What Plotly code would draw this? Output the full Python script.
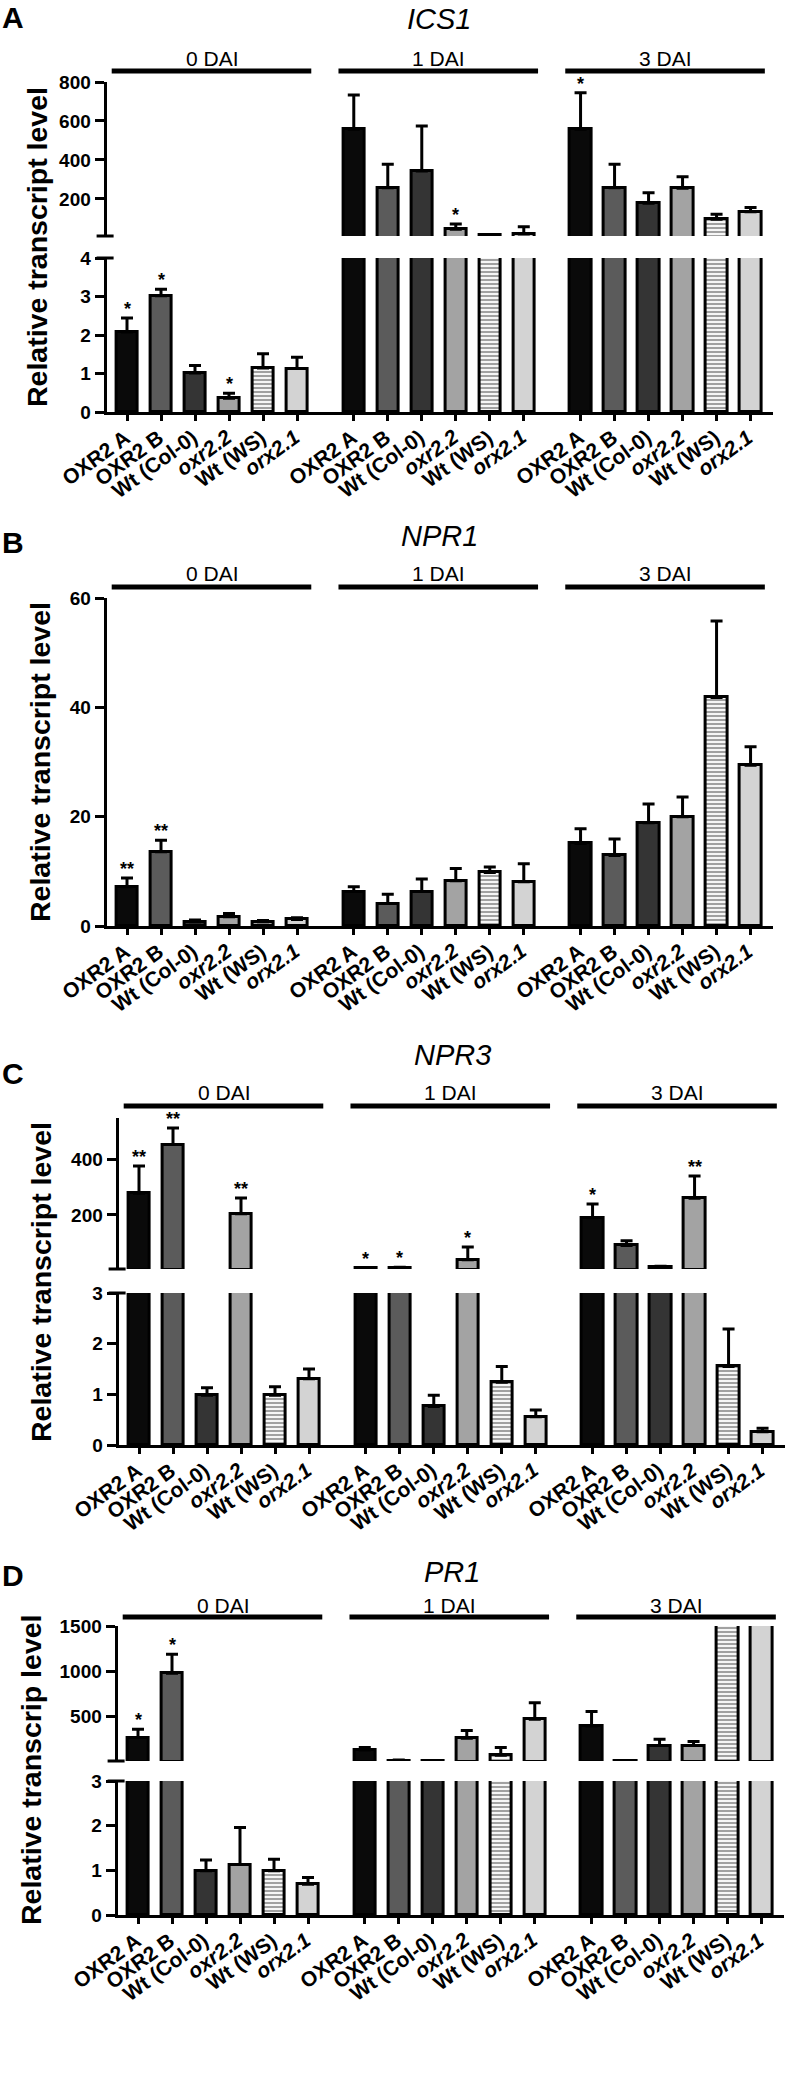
import plotly.graph_objects as go

W, H = 789, 2076

# ---------------- data ----------------
GENOTYPES = ["OXR2 A", "OXR2 B", "Wt (Col-0)", "oxr2.2", "Wt (WS)", "orx2.1"]
TICK_TEXT = ["OXR2 A", "OXR2 B", "Wt (Col-0)", "<i>oxr2.2</i>", "Wt (WS)", "<i>orx2.1</i>"]
DAYS = ["0 DAI", "1 DAI", "3 DAI"]

ICS1_MEAN = [2.08, 3.02, 1.01, 0.36, 1.14, 1.13,
             557, 258, 344, 44, 14, 20,
             557, 258, 178, 255, 96, 135]
ICS1_SEM = [0.36, 0.17, 0.20, 0.13, 0.37, 0.29,
            176, 120, 230, 28, 3, 38,
            188, 120, 54, 59, 25, 21]
ICS1_SIG = ["*", "*", "", "*", "", "",
            "", "", "", "*", "", "",
            "*", "", "", "", "", ""]

NPR1_MEAN = [7.2, 13.6, 0.8, 1.7, 0.8, 1.2,
             6.3, 4.1, 6.3, 8.3, 9.8, 8.1,
             15.1, 12.9, 18.9, 20.0, 41.8, 29.4]
NPR1_SEM = [1.6, 2.1, 0.3, 0.6, 0.2, 0.3,
            0.9, 1.7, 2.3, 2.2, 1.0, 3.3,
            2.7, 3.0, 3.4, 3.6, 14.0, 3.4]
NPR1_SIG = ["**", "**", "", "", "", "",
            "", "", "", "", "", "",
            "", "", "", "", "", ""]

NPR3_MEAN = [278, 454, 0.98, 204, 0.98, 1.31,
             8, 9, 0.76, 38, 1.24, 0.56,
             190, 90, 11, 260, 1.55, 0.26]
NPR3_SEM = [99, 60, 0.15, 57, 0.17, 0.19,
            2, 2, 0.22, 46, 0.31, 0.13,
            50, 17, 4, 81, 0.74, 0.07]
NPR3_SIG = ["**", "**", "", "**", "", "",
            "*", "*", "", "*", "", "",
            "*", "", "", "**", "", ""]

PR1_MEAN = [268, 978, 0.99, 1.13, 0.99, 0.69,
            132, 15, 12, 261, 74, 471,
            397, 12, 180, 180, 2400, 2400]
PR1_SEM = [92, 209, 0.24, 0.83, 0.26, 0.15,
           26, 5, 0, 85, 84, 183,
           158, 3, 70, 44, 0, 0]
PR1_SIG = ["*", "*", "", "", "", "",
           "", "", "", "", "", "",
           "", "", "", "", "", ""]

# ---------------- style ----------------
FILLS = ["#0a0a0a", "#5b5b5b", "#343434", "#a3a3a3", "#ffffff", "#d3d3d3"]
PATTERNS = ["", "", "", "", "-", ""]
FONT = "Liberation Sans, Arial, sans-serif"
GROUP_STEP = 6.67
PX_PER_UNIT = 34.0
X_RANGE = [-0.6, 19.0]
LABEL_ANGLE = -36

positions = [g * GROUP_STEP + i for g in range(len(DAYS)) for i in range(len(GENOTYPES))]

PANELS = [
    dict(letter="A", gene="ICS1", mean=ICS1_MEAN, sem=ICS1_SEM, sig=ICS1_SIG,
         ytitle="Relative transcript level", first_bar=127, letter_y=17,
         gene_xy=(439, 19), head_text_y=58, head_line_y=71, ytitle_xy=(37, 247),
         segments=[dict(top=82, bot=236, rng=[10, 800], ticks=[200, 400, 600, 800]),
                   dict(top=258, bot=412, rng=[0, 4], ticks=[0, 1, 2, 3, 4])]),
    dict(letter="B", gene="NPR1", mean=NPR1_MEAN, sem=NPR1_SEM, sig=NPR1_SIG,
         ytitle="Relative transcript level", first_bar=127, letter_y=542,
         gene_xy=(440, 536), head_text_y=573, head_line_y=587, ytitle_xy=(40, 762),
         segments=[dict(top=598, bot=926, rng=[0, 60], ticks=[0, 20, 40, 60])]),
    dict(letter="C", gene="NPR3", mean=NPR3_MEAN, sem=NPR3_SEM, sig=NPR3_SIG,
         ytitle="Relative transcript level", first_bar=139, letter_y=1073,
         gene_xy=(452, 1055), head_text_y=1092, head_line_y=1106, ytitle_xy=(41, 1282),
         segments=[dict(top=1118, bot=1269, rng=[5, 550], ticks=[200, 400]),
                   dict(top=1293, bot=1445, rng=[0, 3], ticks=[0, 1, 2, 3])]),
    dict(letter="D", gene="PR1", mean=PR1_MEAN, sem=PR1_SEM, sig=PR1_SIG,
         ytitle="Relative transcrip level", first_bar=138, letter_y=1575,
         gene_xy=(452, 1572), head_text_y=1605, head_line_y=1617, ytitle_xy=(31, 1770),
         segments=[dict(top=1626, bot=1761, rng=[10, 1500], ticks=[500, 1000, 1500]),
                   dict(top=1781, bot=1915, rng=[0, 3], ticks=[0, 1, 2, 3])]),
]

fig = go.Figure()
layout = dict(width=W, height=H, margin=dict(l=0, r=0, t=0, b=0),
              paper_bgcolor="white", plot_bgcolor="white", showlegend=False,
              bargap=0)
annotations = []
shapes = []

idx = 0
for p in PANELS:
    left_px = p["first_bar"] + X_RANGE[0] * PX_PER_UNIT
    right_px = p["first_bar"] + X_RANGE[1] * PX_PER_UNIT
    xdom = [left_px / W, right_px / W]
    nseg = len(p["segments"])
    seg_axes = []
    for s_i, seg in enumerate(p["segments"]):
        idx += 1
        xa = "xaxis" if idx == 1 else f"xaxis{idx}"
        ya = "yaxis" if idx == 1 else f"yaxis{idx}"
        xr = "x" if idx == 1 else f"x{idx}"
        yr = "y" if idx == 1 else f"y{idx}"
        seg_axes.append((xr, yr))
        is_bottom = (s_i == nseg - 1)
        ydom = [1 - seg["bot"] / H, 1 - seg["top"] / H]
        layout[xa] = dict(domain=xdom, range=X_RANGE, anchor=yr, showgrid=False, zeroline=False,
                          automargin=False,
                          visible=is_bottom, showline=True, linecolor="black", linewidth=3,
                          ticks="outside", ticklen=6, tickwidth=3, tickcolor="black",
                          tickvals=positions, showticklabels=False)
        layout[ya] = dict(domain=ydom, range=seg["rng"], anchor=xr, showgrid=False, zeroline=False,
                          automargin=False,
                          showline=True, linecolor="black", linewidth=3,
                          ticks="outside", ticklen=9, tickwidth=3, tickcolor="black",
                          tickvals=seg["ticks"],
                          tickfont=dict(family=FONT, size=19, color="black", weight="bold"))
        lo, hi = seg["rng"]
        if is_bottom:
            ys = list(p["mean"])
            es = [e if m < hi else 0 for m, e in zip(p["mean"], p["sem"])]
        else:
            ys = [m if m > lo else None for m in p["mean"]]
            es = [e if m > lo else 0 for m, e in zip(p["mean"], p["sem"])]
        fig.add_trace(go.Bar(
            x=positions, y=ys, width=0.62, xaxis=xr, yaxis=yr,
            marker=dict(color=FILLS * len(DAYS), line=dict(color="black", width=3),
                        pattern=dict(shape=PATTERNS * len(DAYS), fgcolor="black",
                                     size=4, solidity=0.55)),
            error_y=dict(type="data", symmetric=False, array=es, arrayminus=[0] * len(es),
                         color="black", thickness=3, width=6),
            hoverinfo="skip"))
        # break marks
        if nseg > 1:
            yb = seg["bot"] if not is_bottom else seg["top"]
            shapes.append(dict(type="line", xref="paper", yref="paper",
                               x0=(left_px - 10) / W, x1=(left_px + 7) / W,
                               y0=1 - yb / H, y1=1 - yb / H,
                               line=dict(color="black", width=3)))
        # rotated category labels
        if is_bottom:
            for pos, lab in zip(positions, TICK_TEXT * len(DAYS)):
                annotations.append(dict(x=pos, y=1 - seg["bot"] / H, xref=xr, yref="paper",
                                        text=lab, textangle=LABEL_ANGLE, showarrow=False,
                                        xanchor="right", yanchor="top", xshift=8, yshift=-12,
                                        borderpad=0,
                                        font=dict(family=FONT, size=21, color="black",
                                                  weight="bold")))
    # significance stars
    for k, (pos, m, e, s) in enumerate(zip(positions, p["mean"], p["sem"], p["sig"])):
        if not s:
            continue
        if nseg > 1 and m > p["segments"][0]["rng"][0]:
            xr, yr = seg_axes[0]
        else:
            xr, yr = seg_axes[-1]
        annotations.append(dict(x=pos, y=m + e, xref=xr, yref=yr, text=s, showarrow=False,
                                yanchor="bottom", yshift=-3,
                                font=dict(family=FONT, size=18, color="black", weight="bold")))
    # group headers
    bx = seg_axes[-1][0]
    for g, day in enumerate(DAYS):
        g0 = g * GROUP_STEP
        shapes.append(dict(type="line", xref=bx, yref="paper", x0=g0 - 0.45, x1=g0 + 5.42,
                           y0=1 - p["head_line_y"] / H, y1=1 - p["head_line_y"] / H,
                           line=dict(color="black", width=5)))
        annotations.append(dict(x=g0 + 2.5, y=1 - p["head_text_y"] / H, xref=bx, yref="paper",
                                text=day, showarrow=False, xanchor="center", yanchor="middle",
                                font=dict(family=FONT, size=21, color="black")))
    # panel letter, gene title, y title
    annotations.append(dict(x=13 / W, y=1 - p["letter_y"] / H, xref="paper", yref="paper",
                            text=p["letter"], showarrow=False, xanchor="center", yanchor="middle",
                            font=dict(family=FONT, size=30, color="black", weight="bold")))
    annotations.append(dict(x=p["gene_xy"][0] / W, y=1 - p["gene_xy"][1] / H, xref="paper",
                            yref="paper", text=f"<i>{p['gene']}</i>", showarrow=False,
                            xanchor="center", yanchor="middle",
                            font=dict(family=FONT, size=29, color="black")))
    annotations.append(dict(x=p["ytitle_xy"][0] / W, y=1 - p["ytitle_xy"][1] / H, xref="paper",
                            yref="paper", text=p["ytitle"], textangle=-90, showarrow=False,
                            xanchor="center", yanchor="middle",
                            font=dict(family=FONT, size=28.5, color="black", weight="bold")))

layout["annotations"] = annotations
layout["shapes"] = shapes
fig.update_layout(**layout)
fig.write_html("out.html", config={"displayModeBar": False},
               post_script="document.body.style.margin='0';")
